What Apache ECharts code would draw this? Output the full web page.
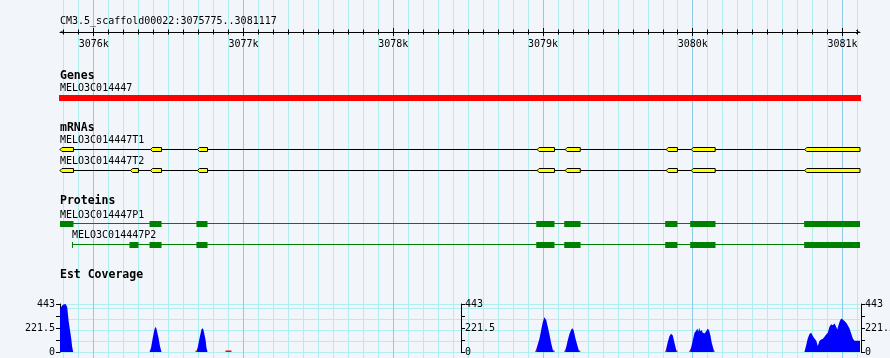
<!DOCTYPE html>
<html><head><meta charset="utf-8">
<script src="https://cdn.jsdelivr.net/npm/echarts@6/dist/echarts.min.js"></script>
<style>html,body{margin:0;padding:0;background:#f2f5fa}#c{width:890px;height:358px}</style>
</head><body><div id="c"></div>
<script>
// ---------------- data ----------------
const regionLabel = 'CM3.5_scaffold00022:3075775..3081117';
const viewStart = 3075775;
const viewEnd = 3081117;
const rulerTicks = [3076000, 3077000, 3078000, 3079000, 3080000, 3081000];

const geneName = 'MELO3C014447';
const geneSpan = [3075775, 3081117];

const t1Name = 'MELO3C014447T1';
const t1Exons = [[3075775,3075865],[3076379,3076453],[3076693,3076760],[3078961,3079077],[3079148,3079249],[3079823,3079898],[3079990,3080150],[3080748,3081117]];
const t2Name = 'MELO3C014447T2';
const t2Exons = [[3075775,3075865],[3076246,3076299],[3076379,3076453],[3076693,3076760],[3078961,3079077],[3079148,3079249],[3079823,3079898],[3079990,3080150],[3080748,3081117]];

const p1Name = 'MELO3C014447P1';
const p1Cds = [[3075775,3075865],[3076373,3076453],[3076686,3076760],[3078955,3079077],[3079142,3079251],[3079816,3079898],[3079983,3080152],[3080744,3081117]];
const p2Name = 'MELO3C014447P2';
const p2Cds = [[3075855,3075861],[3076239,3076299],[3076373,3076453],[3076686,3076760],[3078955,3079077],[3079142,3079251],[3079816,3079898],[3079983,3080152],[3080744,3081117]];

const coverageMax = 443;
const coverageTickLabels = [0, 221.5, 443];
const covPositions = [
  3075775,3075778,3075794,3075812,3075823,3075832,3075840,3075850,3075856,3075863,
  3076373,3076383,3076393,3076406,3076413,3076419,3076433,3076443,3076453,
  3076686,3076696,3076707,3076720,3076727,3076733,3076747,3076753,3076760,
  3078950,3078977,3078988,3078999,3079010,3079022,3079032,3079044,3079055,3079066,3079077,
  3079144,3079155,3079166,3079177,3079189,3079197,3079206,3079217,3079229,3079239,3079249,
  3079818,3079834,3079845,3079856,3079867,3079878,3079890,3079896,
  3079978,3079990,3080001,3080012,3080023,3080030,3080037,3080043,3080050,3080059,3080067,3080079,3080090,3080101,3080110,3080119,3080127,3080137,3080145,
  3080746,3080758,3080768,3080780,3080791,3080802,3080813,3080825,3080835,3080847,3080858,3080869,3080880,3080891,3080902,3080913,3080925,3080935,3080947,3080958,3080965,3080973,3080982,3080991,3081002,3081013,3081025,3081035,3081047,3081058,3081069,3081080,3081092,3081102,3081114,3081117
];
const covValues = [
  400,405,437,443,415,293,217,125,48,0,
  0,40,120,210,232,215,130,50,0,
  0,50,130,210,220,205,110,40,0,
  0,125,202,278,321,293,232,156,80,18,0,
  0,43,110,165,208,220,195,125,64,15,0,
  0,94,147,168,153,85,18,0,
  0,43,110,177,195,217,186,223,192,202,177,171,192,217,195,147,85,34,0,
  0,64,125,165,177,147,125,104,55,104,116,122,140,162,177,232,257,248,263,232,208,248,284,309,300,287,269,248,217,171,125,104,104,104,104,104
];
const lowCoverage = [[3076680,3076693],[3076880,3076920],[3078950,3078960],[3079067,3079077],[3079144,3079154],[3079239,3079249],[3079818,3079828],[3079888,3079898],[3079978,3079988],[3080135,3080145]];

// ---------------- layout / style ----------------
const FONT = '"DejaVu Sans Mono", monospace';
const C_MINOR = '#b0eef0', C_MAJOR = '#8ecbea';
// track rows: 0 gene, 1 T1, 2 T2, 3 P1, 4 P2
const trackRows = [
  {line: 98, top: 95, bottom: 101},
  {line: 149.5, top: 147.5, bottom: 151.5},
  {line: 170.5, top: 168.5, bottom: 172.5},
  {line: 223.5, top: 221, bottom: 227},
  {line: 244.5, top: 242, bottom: 248}
];

// group coverage points into runs (peaks) separated by zero values
const covRuns = [];
(function () {
  let cur = [];
  for (let i = 0; i < covPositions.length; i++) {
    cur.push(i);
    if (covValues[i] === 0 && cur.length > 1) { covRuns.push(cur); cur = [i]; cur = []; }
  }
  if (cur.length > 1) covRuns.push(cur);
})();

const chart = echarts.init(document.getElementById('c'), null, {renderer: 'canvas'});

function xOf(api, v) { return api.coord([v, 0])[0]; }

function geneRender(params, api) {
  const x0 = xOf(api, api.value(0)), x1 = xOf(api, api.value(1));
  const t = trackRows[api.value(2)];
  return {type: 'rect', shape: {x: x0 - 1, y: t.top, width: x1 - x0 + 2, height: t.bottom - t.top}, style: {fill: '#ff0000'}};
}
function backboneRender(color) {
  return function (params, api) {
    const x0 = xOf(api, api.value(0)), x1 = xOf(api, api.value(1));
    const t = trackRows[api.value(2)];
    return {type: 'line', shape: {x1: x0, y1: t.line, x2: x1, y2: t.line}, style: {stroke: color, lineWidth: 1}};
  };
}
function exonRender(params, api) {
  const x0 = xOf(api, api.value(0)), x1 = xOf(api, api.value(1));
  const t = trackRows[api.value(2)];
  const tip = Math.min(2, (x1 - x0) / 2);
  return {type: 'polygon', shape: {points: [[x0, t.line], [x0 + tip, t.top], [x1, t.top], [x1, t.bottom], [x0 + tip, t.bottom]]},
    style: {fill: '#ffff00', stroke: '#000', lineWidth: 1}};
}
function cdsRender(params, api) {
  const x0 = xOf(api, api.value(0)), x1 = xOf(api, api.value(1));
  const t = trackRows[api.value(2)];
  return {type: 'rect', shape: {x: x0, y: t.top, width: Math.max(1, x1 - x0), height: t.bottom - t.top}, style: {fill: '#008000'}};
}
function coverageRender(params, api) {
  const run = covRuns[params.dataIndex];
  const pts = run.map(i => api.coord([covPositions[run[0]] === undefined ? 0 : covPositions[i], covValues[i]]));
  pts.push(api.coord([covPositions[run[run.length - 1]], 0]));
  pts.push(api.coord([covPositions[run[0]], 0]));
  return {type: 'polygon', shape: {points: pts}, style: {fill: '#0000ff'}};
}
function lowRender(params, api) {
  const a = api.coord([api.value(0), 0]), b = api.coord([api.value(1), 0]);
  return {type: 'rect', shape: {x: a[0], y: a[1] - 1.5, width: Math.max(1.5, b[0] - a[0]), height: 1.5}, style: {fill: '#ff0000'}};
}

const span = arr => [arr[0][0], arr[arr.length - 1][1]];
const tag = (arr, row) => arr.map(d => [d[0], d[1], row]);

function txt(text, x, y, bold) {
  return {type: 'text', x: x, y: y, silent: true, z: 100,
    style: {text: text, fill: '#000', font: (bold ? 'bold 11.5px ' : '10px ') + FONT, verticalAlign: 'middle', align: 'left'}};
}

const covAxisBase = {
  type: 'value', gridIndex: 2, min: 0, max: coverageMax, interval: coverageMax / 4,
  axisLine: {show: true, onZero: false, lineStyle: {color: '#000', width: 1}},
  axisTick: {show: true, length: 4, lineStyle: {color: '#000'}},
  splitLine: {show: false},
  axisLabel: {show: true, color: '#000', fontFamily: FONT, fontSize: 10, hideOverlap: false,
    formatter: v => (coverageTickLabels.indexOf(v) >= 0 ? String(v) : '')}
};

const gridBase = {left: 60, right: 30, containLabel: false, outerBoundsMode: 'none'};

const option = {
  backgroundColor: '#f2f5fa',
  animation: false,
  grid: [
    Object.assign({}, gridBase, {top: 0, bottom: 0}),
    Object.assign({}, gridBase, {top: 0, height: 32}),
    Object.assign({}, gridBase, {top: 304, bottom: 6})
  ],
  xAxis: [
    {type: 'value', gridIndex: 0, min: viewStart, max: viewEnd, minInterval: 1000, maxInterval: 1000,
      axisLine: {show: false, onZero: false}, axisTick: {show: false}, axisLabel: {show: false},
      splitLine: {show: true, showMinLine: false, showMaxLine: false, lineStyle: {color: C_MAJOR, width: 1}},
      minorTick: {show: false, splitNumber: 10},
      minorSplitLine: {show: true, lineStyle: {color: C_MINOR, width: 1}}},
    {type: 'value', gridIndex: 1, position: 'bottom', min: viewStart, max: viewEnd, minInterval: 1000, maxInterval: 1000,
      axisLine: {show: true, onZero: false, lineStyle: {color: '#000', width: 1},
        symbol: ['path://M0,10 L5,0 L10,10 L8.4,10 L5,3.2 L1.6,10 Z', 'path://M0,10 L5,0 L10,10 L8.4,10 L5,3.2 L1.6,10 Z'],
        symbolSize: [7, 4], symbolOffset: [2, -2]},
      axisTick: {show: true, length: 4, customValues: rulerTicks, lineStyle: {color: '#000'}},
      minorTick: {show: true, splitNumber: 10, length: 2.5, lineStyle: {color: '#000'}},
      axisLabel: {show: true, customValues: rulerTicks, margin: 7, color: '#000', fontFamily: FONT, fontSize: 10,
        formatter: v => (v / 1000) + 'k'},
      splitLine: {show: false}},
    {type: 'value', gridIndex: 1, position: 'bottom', min: viewStart, max: viewEnd, minInterval: 1000, maxInterval: 1000,
      axisLine: {show: false, onZero: false},
      axisTick: {show: true, inside: true, length: 4, customValues: rulerTicks, lineStyle: {color: '#000'}},
      minorTick: {show: true, splitNumber: 10, length: 2.5, lineStyle: {color: '#000'}},
      axisLabel: {show: false}, splitLine: {show: false}},
    {type: 'value', gridIndex: 2, min: viewStart, max: viewEnd, show: false}
  ],
  yAxis: [
    {type: 'value', gridIndex: 0, min: 0, max: 358, inverse: true, show: false},
    {type: 'value', gridIndex: 1, min: 0, max: 1, show: false},
    {type: 'value', gridIndex: 2, min: 0, max: coverageMax, minInterval: 100, maxInterval: 100,
      axisLine: {show: false}, axisTick: {show: false}, axisLabel: {show: false},
      splitLine: {show: true, lineStyle: {color: C_MINOR, width: 1}}},
    Object.assign({}, covAxisBase, {position: 'left', axisLabel: Object.assign({}, covAxisBase.axisLabel, {margin: 5})}),
    Object.assign({}, covAxisBase, {position: 'right', offset: -399, axisLabel: Object.assign({}, covAxisBase.axisLabel, {margin: 4})}),
    Object.assign({}, covAxisBase, {position: 'right', offset: 1, axisLabel: Object.assign({}, covAxisBase.axisLabel, {margin: 4})})
  ],
  series: [
    {type: 'custom', xAxisIndex: 0, yAxisIndex: 0, clip: false, renderItem: geneRender, encode: {x: [0, 1]}, data: [[geneSpan[0], geneSpan[1], 0]]},
    {type: 'custom', xAxisIndex: 0, yAxisIndex: 0, renderItem: backboneRender('#000'), encode: {x: [0, 1]},
      data: [[...span(t1Exons), 1], [...span(t2Exons), 2]]},
    {type: 'custom', xAxisIndex: 0, yAxisIndex: 0, renderItem: exonRender, encode: {x: [0, 1]},
      data: tag(t1Exons, 1).concat(tag(t2Exons, 2))},
    {type: 'custom', xAxisIndex: 0, yAxisIndex: 0, renderItem: backboneRender('#008000'), encode: {x: [0, 1]},
      data: [[...span(p1Cds), 3], [...span(p2Cds), 4]]},
    {type: 'custom', xAxisIndex: 0, yAxisIndex: 0, renderItem: cdsRender, encode: {x: [0, 1]},
      data: tag(p1Cds, 3).concat(tag(p2Cds, 4))},
    {type: 'custom', xAxisIndex: 3, yAxisIndex: 2, renderItem: coverageRender, encode: {x: [0, 1]},
      data: covRuns.map(r => [covPositions[r[0]], covPositions[r[r.length - 1]]])},
    {type: 'custom', xAxisIndex: 3, yAxisIndex: 2, renderItem: lowRender, encode: {x: [0, 1]}, data: lowCoverage}
  ],
  graphic: [
    txt(regionLabel, 60, 21.5, false),
    txt('Genes', 60, 76, true),
    txt(geneName, 60, 88.5, false),
    txt('mRNAs', 60, 128.5, true),
    txt(t1Name, 60, 140.5, false),
    txt(t2Name, 60, 161, false),
    txt('Proteins', 60, 201.5, true),
    txt(p1Name, 60, 215.5, false),
    txt(p2Name, 72, 235.5, false),
    txt('Est Coverage', 60, 275.5, true)
  ]
};
chart.setOption(option);
</script>
</body></html>
